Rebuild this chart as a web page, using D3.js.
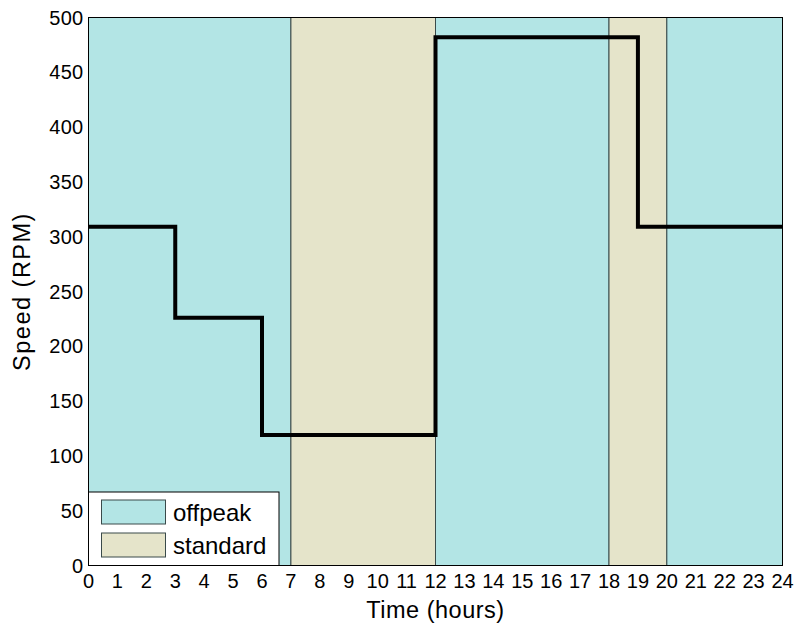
<!DOCTYPE html>
<html>
<head>
<meta charset="utf-8">
<script src="https://cdn.jsdelivr.net/npm/d3@7"></script>
<style>
  body { margin: 0; background: #fff; }
  svg text { font-family: "Liberation Sans", Arial, Helvetica, sans-serif; fill: #000; }
</style>
</head>
<body>
<svg id="chart" width="798" height="630"></svg>
<script>
// Tariff periods over the day
const periodStarts = [0, 7, 12, 18, 20];
const periodEnds   = [7, 12, 18, 20, 24];
const periodTypes  = ["offpeak", "standard", "offpeak", "standard", "offpeak"];

// Speed schedule (step changes at these hours)
const stepHours  = [0, 3, 6, 12, 19, 24];
const stepSpeeds = [309, 226, 119, 482, 309, 309];

const xTicks = d3.range(0, 25, 1);
const yTicks = [0, 50, 100, 150, 200, 250, 300, 350, 400, 450, 500];
const legendItems = ["offpeak", "standard"];

const colors = { offpeak: "#b3e5e5", standard: "#e5e4ca" };

const svg = d3.select("#chart");
const m = { left: 88.5, right: 782.5, top: 17.5, bottom: 565.5 };

const x = d3.scaleLinear().domain([0, 24]).range([m.left, m.right]);
const y = d3.scaleLinear().domain([0, 500]).range([m.bottom, m.top]);

// inward ticks, drawn beneath the period shading
const g = svg.append("g");
g.selectAll(".ytk").data(yTicks).enter().append("line")
  .attr("x1", m.left).attr("x2", m.left + 6)
  .attr("y1", d => y(d)).attr("y2", d => y(d))
  .attr("stroke", "#999").attr("stroke-width", 1);

// period shading
g.selectAll(".period").data(periodStarts).enter().append("rect")
  .attr("x", (d, i) => x(d))
  .attr("y", y(500))
  .attr("width", (d, i) => x(periodEnds[i]) - x(d))
  .attr("height", y(0) - y(500))
  .attr("fill", (d, i) => colors[periodTypes[i]])
  .attr("stroke", "#3a4a4a").attr("stroke-width", 1);

// axes frame
svg.append("rect")
  .attr("x", m.left).attr("y", m.top)
  .attr("width", m.right - m.left).attr("height", m.bottom - m.top)
  .attr("fill", "none").attr("stroke", "#000").attr("stroke-width", 1);

// speed step line
const pts = stepHours.map((h, i) => [h, stepSpeeds[i]]);
const line = d3.line().x(d => x(d[0])).y(d => y(d[1])).curve(d3.curveStepAfter);
svg.append("path").datum(pts)
  .attr("d", line)
  .attr("fill", "none").attr("stroke", "#000").attr("stroke-width", 4)
  .attr("stroke-linejoin", "miter");

// tick labels
svg.selectAll(".yl").data(yTicks).enter().append("text")
  .attr("x", m.left - 5).attr("y", d => y(d) + 7)
  .attr("text-anchor", "end").attr("font-size", 20)
  .attr("letter-spacing", 0.3)
  .text(d => d);
svg.selectAll(".xl").data(xTicks).enter().append("text")
  .attr("x", d => x(d)).attr("y", 588)
  .attr("text-anchor", "middle").attr("font-size", 20)
  .text(d => d);

// axis titles
svg.append("text")
  .attr("x", (m.left + m.right) / 2).attr("y", 618)
  .attr("text-anchor", "middle").attr("font-size", 23.5)
  .attr("letter-spacing", 0.5)
  .text("Time (hours)");
svg.append("text")
  .attr("transform", `translate(30,${(m.top + m.bottom) / 2}) rotate(-90)`)
  .attr("text-anchor", "middle").attr("font-size", 23.5)
  .attr("letter-spacing", 1.5)
  .text("Speed (RPM)");

// legend
const lg = svg.append("g");
lg.append("rect")
  .attr("x", m.left).attr("y", 492)
  .attr("width", 279 - m.left).attr("height", m.bottom - 492)
  .attr("fill", "#fff").attr("stroke", "#000").attr("stroke-width", 1);
legendItems.forEach((k, i) => {
  const yy = 500 + i * 33;
  lg.append("rect")
    .attr("x", 101.5).attr("y", yy)
    .attr("width", 64).attr("height", 24)
    .attr("fill", colors[k]).attr("stroke", "#3a4a4a").attr("stroke-width", 1);
  lg.append("text")
    .attr("x", 173).attr("y", yy + 21)
    .attr("font-size", 24)
    .text(k);
});
</script>
</body>
</html>
